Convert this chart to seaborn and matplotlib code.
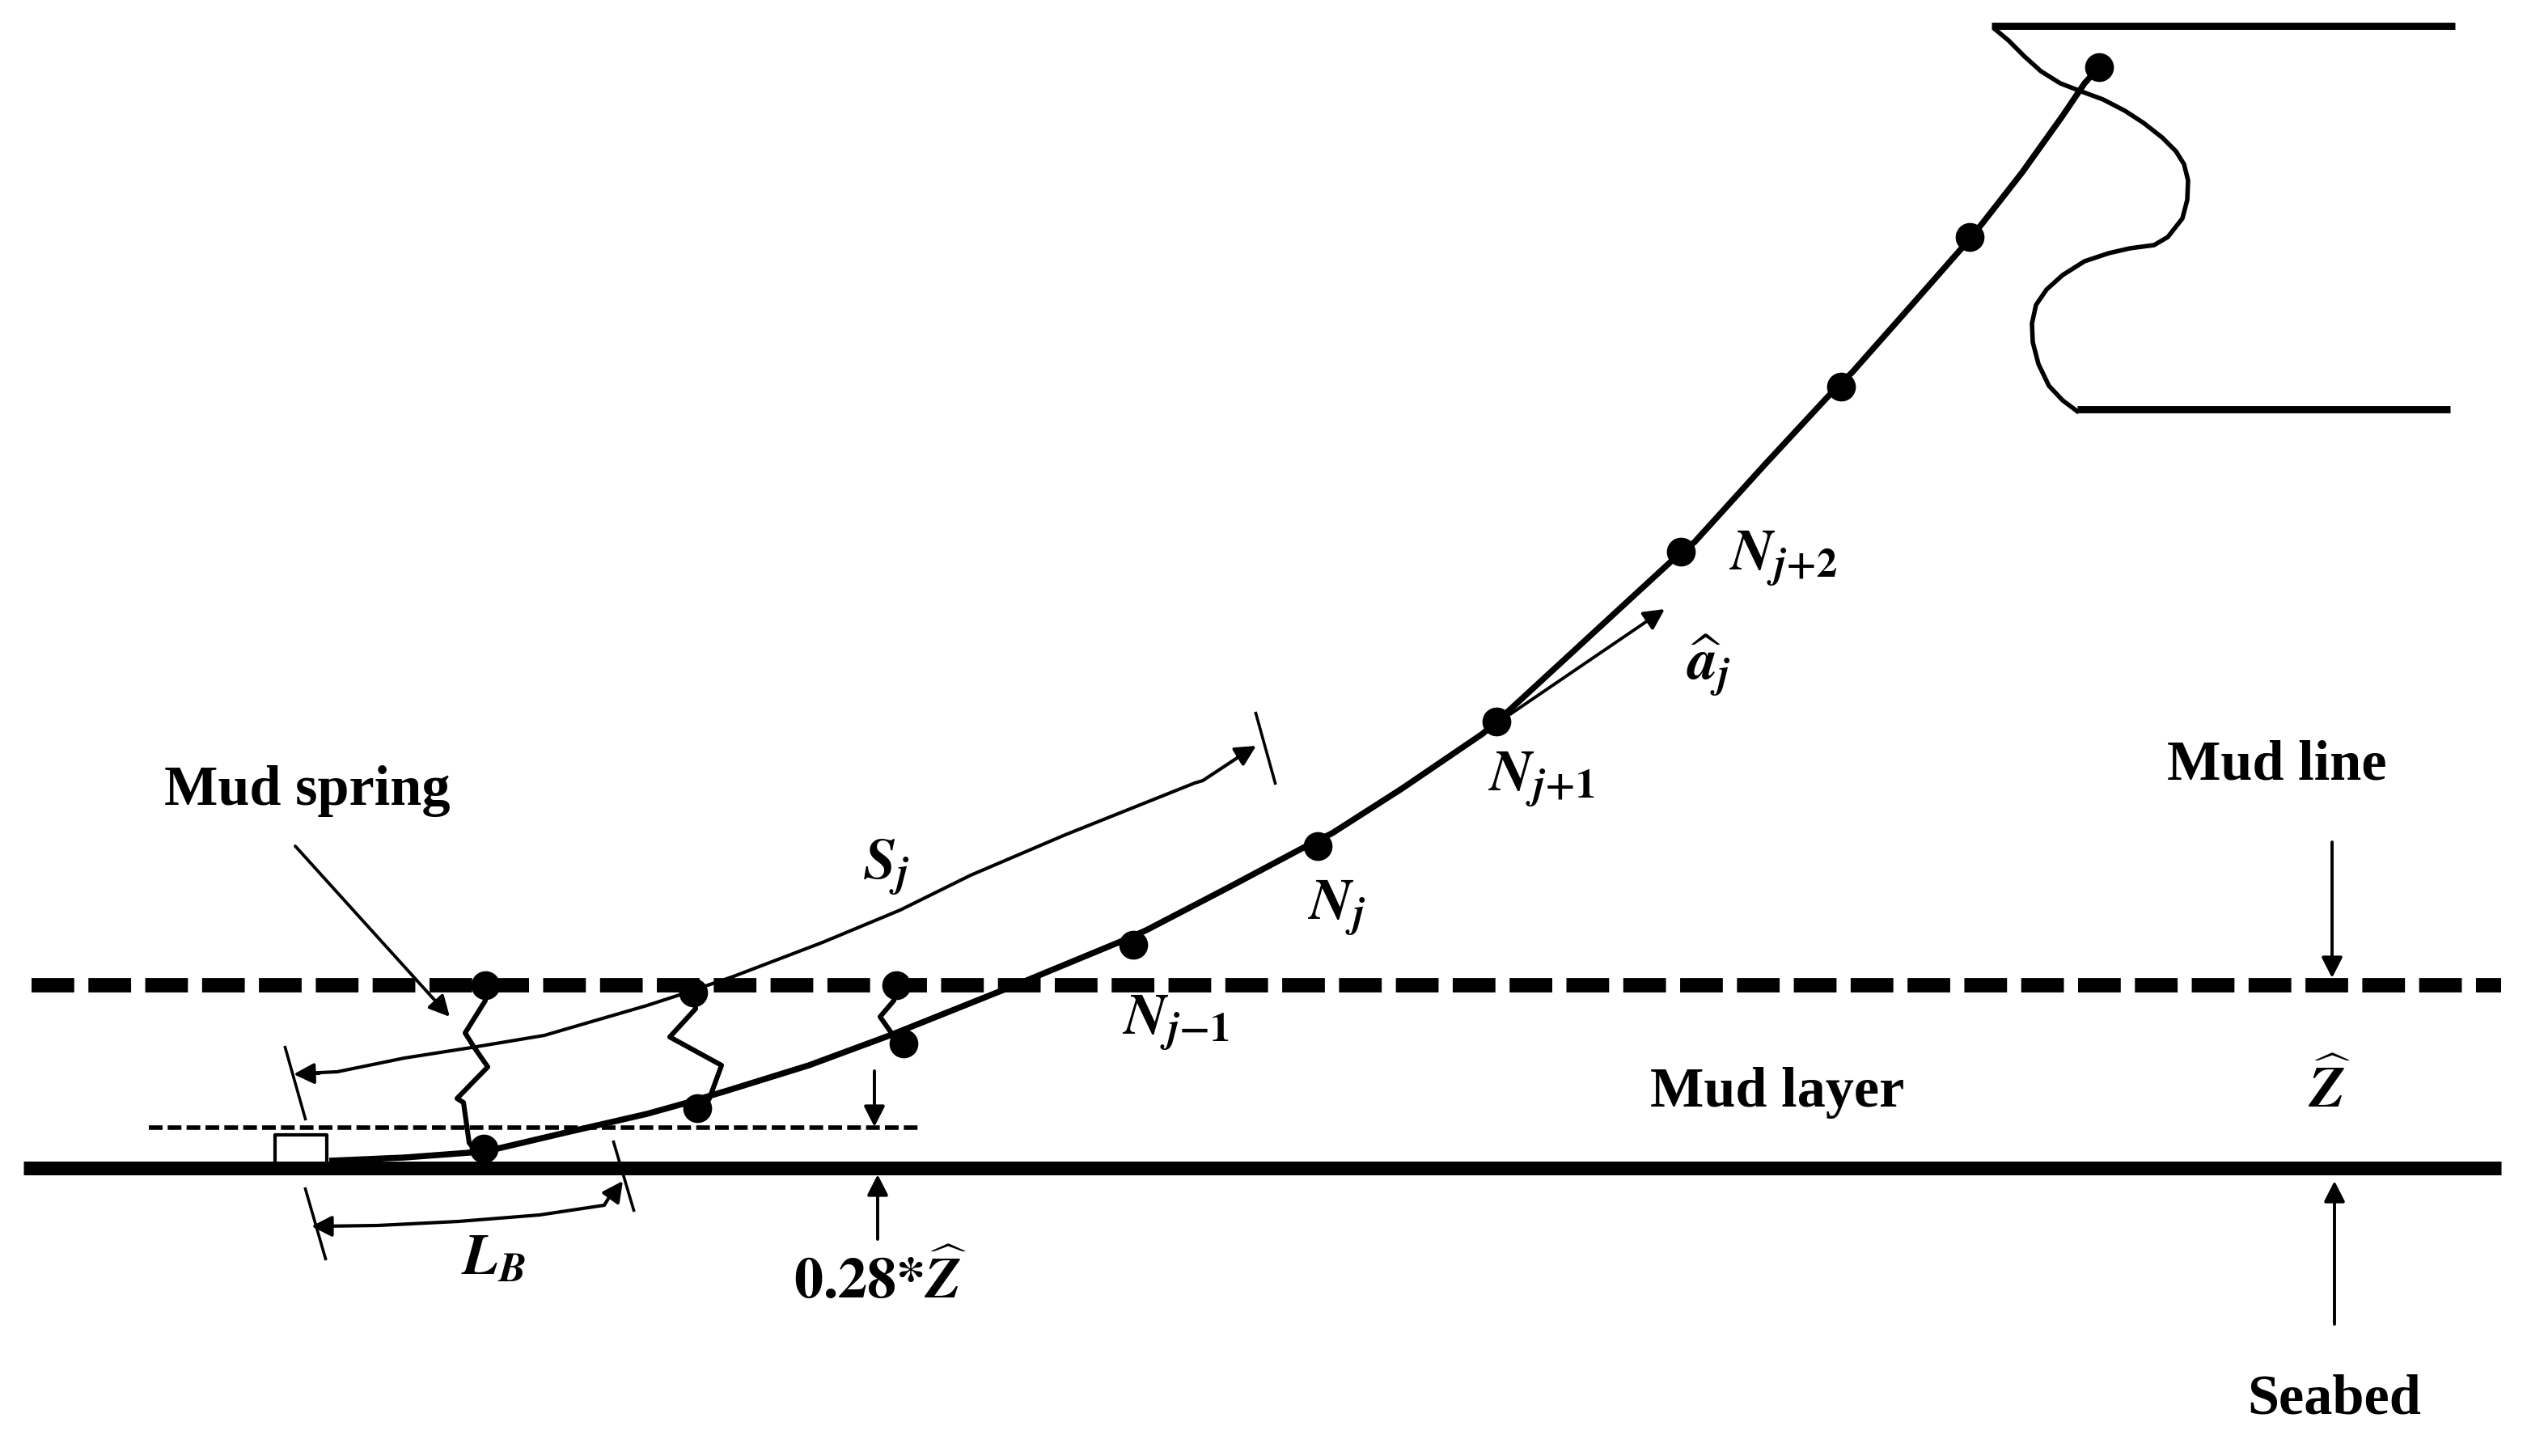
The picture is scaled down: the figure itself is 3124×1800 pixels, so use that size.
import matplotlib
matplotlib.use('Agg')
import matplotlib.pyplot as plt
import seaborn as sns

sns.set_theme(style='white')
plt.rcParams['font.family'] = ['Liberation Serif', 'DejaVu Serif']
plt.rcParams['mathtext.fontset'] = 'stix'
plt.rcParams['lines.scale_dashes'] = False
plt.rcParams['lines.solid_capstyle'] = 'butt'
plt.rcParams['lines.solid_joinstyle'] = 'round'

seabed_x = [29, 3092]
seabed_y = [1444, 1444]
mudline_x = [39, 3092]
mudline_y = [1218, 1218]
layer_x = [184, 1136]
layer_y = [1394, 1394]

hull_top_x = [2462, 3035]
hull_top_y = [32, 32]
hull_bot_x = [2568, 3029]
hull_bot_y = [506, 506]
hull_x = [2465, 2483, 2503, 2523, 2547, 2573, 2600, 2627, 2650, 2673, 2690, 2700, 2705, 2704,
          2698, 2680, 2663, 2633, 2607, 2577, 2550, 2530, 2517, 2512, 2513, 2520, 2533, 2550, 2570]
hull_y = [35, 50, 70, 88, 103, 113, 123, 137, 152, 170, 187, 203, 223, 247,
          270, 293, 303, 307, 313, 323, 340, 358, 377, 400, 423, 450, 477, 495, 510]

cable_x = [407, 500, 580, 615, 700, 800, 843, 900, 1000, 1100, 1200, 1250, 1383, 1417, 1517, 1613,
           1647, 1733, 1833, 1867, 1967, 2067, 2095, 2183, 2260, 2290, 2367, 2425, 2450, 2500, 2550,
           2577, 2595]
cable_y = [1435, 1431, 1425, 1420, 1400, 1377, 1365, 1348, 1317, 1280, 1240, 1220, 1165, 1150, 1098, 1047,
           1030, 975, 907, 877, 785, 693, 670, 573, 490, 460, 373, 307, 277, 213, 143,
           103, 83]

node_x = [2595, 2435, 2276, 2078, 1850, 1629, 1401, 1117, 862, 598]
node_y = [83, 293, 478, 682, 892, 1046, 1168, 1290, 1370, 1420]
mud_node_x = [600, 857, 1108]
mud_node_y = [1218, 1227, 1218]

spring1_x = [600, 600, 575, 585, 603, 565, 573, 580, 590]
spring1_y = [1218, 1237, 1277, 1293, 1319, 1358, 1363, 1413, 1425]
spring2_x = [857, 860, 828, 892, 877, 870]
spring2_y = [1227, 1247, 1282, 1317, 1358, 1370]
spring3_x = [1108, 1105, 1088, 1102, 1117]
spring3_y = [1218, 1237, 1257, 1277, 1290]

sj_x = [375, 417, 500, 583, 673, 690, 800, 840, 907, 1017, 1113, 1200, 1317, 1477, 1487, 1540]
sj_y = [1327, 1325, 1308, 1295, 1280, 1275, 1243, 1230, 1207, 1165, 1125, 1082, 1032, 968, 965, 930]
lb_x = [395, 467, 567, 667, 747, 755, 762]
lb_y = [1516, 1515, 1510, 1502, 1490, 1477, 1468]

ticks = [
    ([352, 378], [1293, 1385]),
    ([1552, 1577], [880, 970]),
    ([377, 403], [1468, 1558]),
    ([758, 784], [1410, 1498]),
]

box_x = [340, 340, 404, 404]
box_y = [1438, 1403, 1403, 1438]

arrows = [
    ((365, 1046), (556, 1257)),   # Mud spring
    ((1081, 1324), (1081, 1393)),
    ((1085, 1532), (1085, 1452)),
    ((2883, 1041), (2883, 1209)),
    ((2886, 1637), (2886, 1460)),
    ((1867, 883), (2058, 753)),   # a_j
    ((395, 1327), (363, 1328)),   # S_j left end
    ((1530, 936), (1553, 922)),   # S_j right end
    ((400, 1516), (385, 1516)),   # L_B left end
    ((760, 1474), (770, 1460)),   # L_B right end
]

plain_labels = [
    ('Mud spring', 380, 978),
    ('Mud line', 2815, 946),
    ('Mud layer', 2197, 1351),
    ('Seabed', 2886, 1731),
]
math_labels = [
    (r'$\mathbfit{N}_{\mathbfit{j}\mathbf{+2}}$', 2205, 691),
    (r'$\widehat{\mathbfit{a}}_{\mathbfit{j}}$', 2112, 823),
    (r'$\mathbfit{N}_{\mathbfit{j}\mathbf{+1}}$', 1906, 964),
    (r'$\mathbfit{N}_{\mathbfit{j}}$', 1653, 1123),
    (r'$\mathbfit{N}_{\mathbfit{j}\mathbf{-1}}$', 1454, 1265),
    (r'$\mathbfit{S}_{\mathbfit{j}}$', 1096, 1073),
    (r'$\mathbfit{L}_{\mathbfit{B}}$', 610, 1558),
    (r'$\mathbf{0.28{*}}\widehat{\mathbfit{Z}}$', 1088, 1584),
    (r'$\widehat{\mathbfit{Z}}$', 2880, 1349),
]

fig = plt.figure(figsize=(15.62, 9), dpi=200)
ax = fig.add_axes([0, 0, 1, 1])


def line(x, y, lw):
    sns.lineplot(x=x, y=y, sort=False, estimator=None, color='black', linewidth=lw, ax=ax)
    return ax.lines[-1]


line(seabed_x, seabed_y, 6.1)
l = line(mudline_x, mudline_y, 6.4)
l.set_linestyle((0, (19, 6.3)))
l = line(layer_x, layer_y, 2.0)
l.set_linestyle((0, (6.1, 2.3)))

line(hull_top_x, hull_top_y, 3.2)
line(hull_bot_x, hull_bot_y, 3.2)
line(hull_x, hull_y, 2.0)

line(cable_x, cable_y, 2.7)
line(spring1_x, spring1_y, 2.2)
line(spring2_x, spring2_y, 2.2)
line(spring3_x, spring3_y, 2.2)
line(sj_x, sj_y, 1.5)
line(lb_x, lb_y, 1.5)
for tx, ty in ticks:
    line(tx, ty, 1.3)
line(box_x, box_y, 1.5)

sns.scatterplot(x=node_x, y=node_y, s=165, color='black', linewidth=0, ax=ax)
sns.scatterplot(x=mud_node_x, y=mud_node_y, s=165, color='black', linewidth=0, ax=ax)

for start, end in arrows:
    ax.annotate('', xy=end, xytext=start,
                arrowprops=dict(arrowstyle='-|>,head_length=0.55,head_width=0.28', color='black',
                                lw=1.4, mutation_scale=14, shrinkA=0, shrinkB=0))

for label, x, y in plain_labels:
    ax.text(x, y, label, fontsize=25.3, fontweight='bold', ha='center', va='center', color='black')
for label, x, y in math_labels:
    ax.text(x, y, label, fontsize=26, ha='center', va='center', color='black')

ax.set_xlim(0, 3124)
ax.set_ylim(1800, 0)
ax.axis('off')

fig.savefig('out.png', dpi=200, facecolor='white')
